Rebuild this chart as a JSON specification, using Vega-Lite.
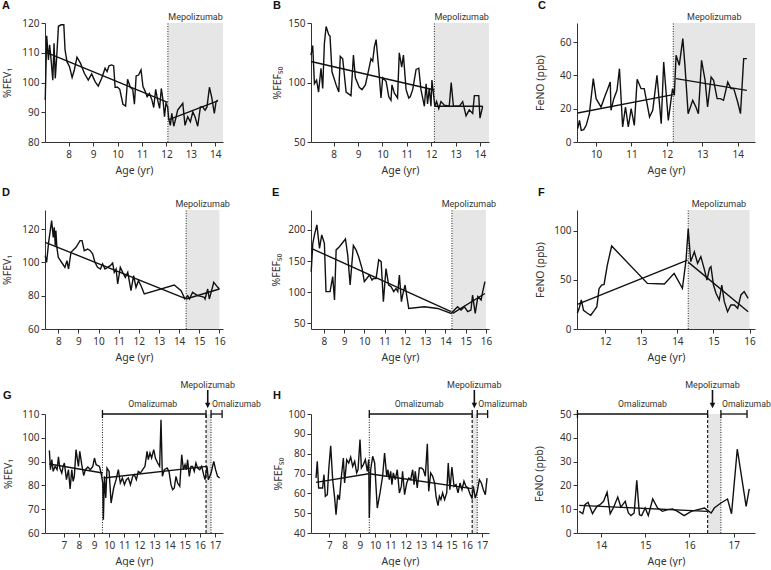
{
"$schema":"https://vega.github.io/schema/vega-lite/v6.json",
"padding":{"left":2,"top":0,"right":0,"bottom":0},
"background":"white",
"config":{
 "view":{"stroke":null},
 "font":"Noto Sans",
 "axis":{"labelFont":"Noto Sans","labelFontSize":10,"labelColor":"#333","titleFont":"Noto Sans","titleFontSize":10.5,"titleFontWeight":"normal","titleColor":"#333","domainColor":"#333","tickColor":"#333","tickSize":4,"grid":false,"labelPadding":2,"labelOverlap":false},
 "axisX":{"labelPadding":3,"titleY":23,"titleBaseline":"top","labelFlush":false},
 "axisY":{"titleX":-37,"titleBaseline":"middle"},
 "title":{"anchor":"start","frame":"bounds","fontSize":11,"fontWeight":"bold","font":"Liberation Sans","color":"#111","offset":2},
 "text":{"font":"Roboto","fontSize":9,"color":"#333"},
 "line":{"color":"#111","strokeWidth":1.4},
 "rect":{"fill":"#e6e6e6"}
},
"datasets":{
"A":[
{"s":"o","x":7.04,"y":94.1},{"s":"o","x":7.10,"y":115.7},{"s":"o","x":7.17,"y":107.6},{"s":"o","x":7.22,"y":112.7},{"s":"o","x":7.28,"y":107.6},{"s":"o","x":7.35,"y":100.8},{"s":"o","x":7.40,"y":113.2},{"s":"o","x":7.45,"y":101.4},{"s":"o","x":7.51,"y":108.7},{"s":"o","x":7.58,"y":118.9},{"s":"o","x":7.69,"y":119.4},{"s":"o","x":7.80,"y":119.4},{"s":"o","x":7.85,"y":111},{"s":"o","x":7.93,"y":107},{"s":"o","x":8.03,"y":105.4},{"s":"o","x":8.14,"y":101.7},{"s":"o","x":8.23,"y":104.2},{"s":"o","x":8.34,"y":108.5},{"s":"o","x":8.48,"y":106.5},{"s":"o","x":8.64,"y":103.1},{"s":"o","x":8.80,"y":100.8},{"s":"o","x":8.94,"y":102.9},{"s":"o","x":9.08,"y":100.3},{"s":"o","x":9.21,"y":98.8},{"s":"o","x":9.35,"y":101.4},{"s":"o","x":9.49,"y":104.8},{"s":"o","x":9.57,"y":103.7},{"s":"o","x":9.65,"y":105.6},{"s":"o","x":9.76,"y":105.9},{"s":"o","x":9.84,"y":105.6},{"s":"o","x":9.90,"y":98.4},{"s":"o","x":10.0,"y":98.4},{"s":"o","x":10.09,"y":97.7},{"s":"o","x":10.22,"y":92.7},{"s":"o","x":10.33,"y":92.1},{"s":"o","x":10.41,"y":101.1},{"s":"o","x":10.52,"y":98.4},{"s":"o","x":10.62,"y":97.7},{"s":"o","x":10.69,"y":92.7},{"s":"o","x":10.76,"y":102.2},{"s":"o","x":10.86,"y":102.5},{"s":"o","x":10.96,"y":104.2},{"s":"o","x":11.04,"y":98.6},{"s":"o","x":11.12,"y":97.2},{"s":"o","x":11.21,"y":95.2},{"s":"o","x":11.30,"y":96.3},{"s":"o","x":11.40,"y":94.3},{"s":"o","x":11.48,"y":91.6},{"s":"o","x":11.56,"y":97.7},{"s":"o","x":11.64,"y":94.1},{"s":"o","x":11.72,"y":91.3},{"s":"o","x":11.79,"y":98},{"s":"o","x":11.86,"y":94.1},{"s":"o","x":11.92,"y":88.5},{"s":"o","x":11.98,"y":93},{"s":"o","x":12.05,"y":91.8},{"s":"o","x":12.09,"y":87.9},{"s":"o","x":12.16,"y":85.6},{"s":"o","x":12.22,"y":89.6},{"s":"o","x":12.30,"y":85.3},{"s":"o","x":12.38,"y":87.9},{"s":"o","x":12.46,"y":90.7},{"s":"o","x":12.54,"y":91.6},{"s":"o","x":12.67,"y":93},{"s":"o","x":12.76,"y":85.6},{"s":"o","x":12.87,"y":88.5},{"s":"o","x":12.98,"y":86.8},{"s":"o","x":13.08,"y":90.1},{"s":"o","x":13.17,"y":88.5},{"s":"o","x":13.28,"y":85.3},{"s":"o","x":13.39,"y":91.8},{"s":"o","x":13.48,"y":91.8},{"s":"o","x":13.58,"y":90.7},{"s":"o","x":13.66,"y":91.8},{"s":"o","x":13.76,"y":98.4},{"s":"o","x":13.85,"y":95.2},{"s":"o","x":13.96,"y":89.6},{"s":"o","x":14.03,"y":93.5},{"s":"o","x":14.10,"y":94.1},
{"s":"t1","x":7.05,"y":110.2},{"s":"t1","x":12.05,"y":93.3},{"s":"t2","x":12.1,"y":87.5},{"s":"t2","x":14.1,"y":93.8}],
"B":[
{"s":"o","x":7.07,"y":123},{"s":"o","x":7.14,"y":131},{"s":"o","x":7.21,"y":99},{"s":"o","x":7.30,"y":102},{"s":"o","x":7.38,"y":92},{"s":"o","x":7.48,"y":112},{"s":"o","x":7.55,"y":95},{"s":"o","x":7.62,"y":133},{"s":"o","x":7.69,"y":147},{"s":"o","x":7.80,"y":140},{"s":"o","x":7.85,"y":139},{"s":"o","x":7.93,"y":109},{"s":"o","x":8.10,"y":98},{"s":"o","x":8.21,"y":92},{"s":"o","x":8.27,"y":122},{"s":"o","x":8.37,"y":120},{"s":"o","x":8.51,"y":92},{"s":"o","x":8.71,"y":89},{"s":"o","x":8.81,"y":123},{"s":"o","x":8.89,"y":104},{"s":"o","x":9.05,"y":96},{"s":"o","x":9.16,"y":94},{"s":"o","x":9.30,"y":98},{"s":"o","x":9.44,"y":111},{"s":"o","x":9.53,"y":120},{"s":"o","x":9.60,"y":118},{"s":"o","x":9.67,"y":130},{"s":"o","x":9.74,"y":136},{"s":"o","x":9.85,"y":111},{"s":"o","x":9.94,"y":87},{"s":"o","x":10.01,"y":104},{"s":"o","x":10.15,"y":101},{"s":"o","x":10.26,"y":88},{"s":"o","x":10.35,"y":85},{"s":"o","x":10.39,"y":98},{"s":"o","x":10.49,"y":91},{"s":"o","x":10.62,"y":87},{"s":"o","x":10.69,"y":125},{"s":"o","x":10.79,"y":113},{"s":"o","x":10.86,"y":123},{"s":"o","x":10.97,"y":94},{"s":"o","x":11.08,"y":87},{"s":"o","x":11.14,"y":88},{"s":"o","x":11.24,"y":94},{"s":"o","x":11.38,"y":111},{"s":"o","x":11.49,"y":112},{"s":"o","x":11.58,"y":94},{"s":"o","x":11.72,"y":80},{"s":"o","x":11.79,"y":99},{"s":"o","x":11.85,"y":82},{"s":"o","x":11.92,"y":95},{"s":"o","x":11.99,"y":80},{"s":"o","x":12.03,"y":102},{"s":"o","x":12.09,"y":91},{"s":"o","x":12.15,"y":80},{"s":"o","x":12.22,"y":84},{"s":"o","x":12.31,"y":78},{"s":"o","x":12.40,"y":84},{"s":"o","x":12.54,"y":81},{"s":"o","x":12.74,"y":80},{"s":"o","x":12.82,"y":100},{"s":"o","x":12.91,"y":80},{"s":"o","x":13.15,"y":80},{"s":"o","x":13.29,"y":84},{"s":"o","x":13.43,"y":72},{"s":"o","x":13.56,"y":77},{"s":"o","x":13.70,"y":74},{"s":"o","x":13.77,"y":89},{"s":"o","x":13.95,"y":89},{"s":"o","x":14.0,"y":70},{"s":"o","x":14.11,"y":80},
{"s":"t1","x":7.07,"y":117.6},{"s":"t1","x":12.13,"y":93.7},{"s":"t2","x":12.15,"y":80.1},{"s":"t2","x":14.11,"y":80.1}],
"C":[
{"s":"o","x":9.48,"y":8},{"s":"o","x":9.53,"y":13},{"s":"o","x":9.58,"y":7},{"s":"o","x":9.65,"y":7.4},{"s":"o","x":9.72,"y":10},{"s":"o","x":9.81,"y":17},{"s":"o","x":9.92,"y":38},{"s":"o","x":10.0,"y":26},{"s":"o","x":10.14,"y":21},{"s":"o","x":10.24,"y":27},{"s":"o","x":10.33,"y":32},{"s":"o","x":10.40,"y":36},{"s":"o","x":10.42,"y":19},{"s":"o","x":10.50,"y":26},{"s":"o","x":10.59,"y":31},{"s":"o","x":10.66,"y":44},{"s":"o","x":10.75,"y":9},{"s":"o","x":10.83,"y":21},{"s":"o","x":10.91,"y":9},{"s":"o","x":10.99,"y":20},{"s":"o","x":11.08,"y":10},{"s":"o","x":11.16,"y":37.6},{"s":"o","x":11.27,"y":32},{"s":"o","x":11.36,"y":32},{"s":"o","x":11.51,"y":15},{"s":"o","x":11.60,"y":19},{"s":"o","x":11.72,"y":40},{"s":"o","x":11.84,"y":11},{"s":"o","x":11.91,"y":48},{"s":"o","x":12.04,"y":13},{"s":"o","x":12.16,"y":32},{"s":"o","x":12.21,"y":28},{"s":"o","x":12.26,"y":52},{"s":"o","x":12.35,"y":46},{"s":"o","x":12.45,"y":62},{"s":"o","x":12.51,"y":46},{"s":"o","x":12.60,"y":17},{"s":"o","x":12.73,"y":25},{"s":"o","x":12.82,"y":21},{"s":"o","x":12.89,"y":17},{"s":"o","x":12.98,"y":49},{"s":"o","x":13.08,"y":37},{"s":"o","x":13.15,"y":21},{"s":"o","x":13.25,"y":39},{"s":"o","x":13.32,"y":37},{"s":"o","x":13.42,"y":26},{"s":"o","x":13.51,"y":26},{"s":"o","x":13.60,"y":25},{"s":"o","x":13.72,"y":36},{"s":"o","x":13.81,"y":32},{"s":"o","x":13.89,"y":32},{"s":"o","x":14.0,"y":24},{"s":"o","x":14.08,"y":17},{"s":"o","x":14.17,"y":50},{"s":"o","x":14.26,"y":50},
{"s":"t1","x":9.48,"y":17.4},{"s":"t1","x":12.18,"y":28.4},{"s":"t2","x":12.26,"y":38},{"s":"t2","x":14.26,"y":31}],
"D":[
{"s":"o","x":7.35,"y":104},{"s":"o","x":7.42,"y":100},{"s":"o","x":7.52,"y":112},{"s":"o","x":7.67,"y":125},{"s":"o","x":7.75,"y":115},{"s":"o","x":7.80,"y":121},{"s":"o","x":7.85,"y":110},{"s":"o","x":7.88,"y":119},{"s":"o","x":7.93,"y":109},{"s":"o","x":8.0,"y":103},{"s":"o","x":8.22,"y":99},{"s":"o","x":8.33,"y":97},{"s":"o","x":8.43,"y":101},{"s":"o","x":8.51,"y":96},{"s":"o","x":8.63,"y":106},{"s":"o","x":8.88,"y":109},{"s":"o","x":9.08,"y":113},{"s":"o","x":9.18,"y":113},{"s":"o","x":9.29,"y":107},{"s":"o","x":9.46,"y":108},{"s":"o","x":9.59,"y":107},{"s":"o","x":9.71,"y":105},{"s":"o","x":9.82,"y":100},{"s":"o","x":9.95,"y":97},{"s":"o","x":10.09,"y":96},{"s":"o","x":10.20,"y":99},{"s":"o","x":10.32,"y":96},{"s":"o","x":10.45,"y":97},{"s":"o","x":10.58,"y":98},{"s":"o","x":10.70,"y":99.6},{"s":"o","x":10.78,"y":94},{"s":"o","x":10.87,"y":96},{"s":"o","x":10.95,"y":87},{"s":"o","x":11.08,"y":97},{"s":"o","x":11.20,"y":94},{"s":"o","x":11.33,"y":91},{"s":"o","x":11.45,"y":94},{"s":"o","x":11.61,"y":83},{"s":"o","x":11.74,"y":92},{"s":"o","x":11.86,"y":85},{"s":"o","x":11.98,"y":89},{"s":"o","x":12.11,"y":86},{"s":"o","x":12.27,"y":81},{"s":"o","x":13.76,"y":86.4},{"s":"o","x":14.10,"y":83},{"s":"o","x":14.29,"y":78},{"s":"o","x":14.43,"y":80},{"s":"o","x":14.51,"y":78},{"s":"o","x":14.67,"y":82},{"s":"o","x":14.92,"y":80},{"s":"o","x":15.09,"y":79.6},{"s":"o","x":15.25,"y":79},{"s":"o","x":15.29,"y":78},{"s":"o","x":15.42,"y":84},{"s":"o","x":15.50,"y":78},{"s":"o","x":15.59,"y":82},{"s":"o","x":15.72,"y":88},{"s":"o","x":15.92,"y":85},{"s":"o","x":16.0,"y":84},
{"s":"t1","x":7.35,"y":112},{"s":"t1","x":14.29,"y":78.4},{"s":"t2","x":14.34,"y":78},{"s":"t2","x":16.0,"y":84}],
"E":[
{"s":"o","x":7.38,"y":133},{"s":"o","x":7.46,"y":178.6},{"s":"o","x":7.54,"y":192},{"s":"o","x":7.66,"y":208},{"s":"o","x":7.79,"y":170.5},{"s":"o","x":7.90,"y":192},{"s":"o","x":8.03,"y":178.6},{"s":"o","x":8.11,"y":101},{"s":"o","x":8.31,"y":101},{"s":"o","x":8.44,"y":125},{"s":"o","x":8.53,"y":87.5},{"s":"o","x":8.61,"y":168},{"s":"o","x":8.77,"y":173},{"s":"o","x":9.07,"y":185.5},{"s":"o","x":9.18,"y":160},{"s":"o","x":9.30,"y":111.6},{"s":"o","x":9.46,"y":175},{"s":"o","x":9.59,"y":168},{"s":"o","x":9.72,"y":157},{"s":"o","x":9.89,"y":138},{"s":"o","x":10.0,"y":117},{"s":"o","x":10.12,"y":122},{"s":"o","x":10.25,"y":127.7},{"s":"o","x":10.38,"y":119.6},{"s":"o","x":10.45,"y":122},{"s":"o","x":10.58,"y":122},{"s":"o","x":10.71,"y":152},{"s":"o","x":10.83,"y":149},{"s":"o","x":10.94,"y":84.8},{"s":"o","x":11.07,"y":138},{"s":"o","x":11.20,"y":111.6},{"s":"o","x":11.32,"y":109},{"s":"o","x":11.45,"y":101},{"s":"o","x":11.56,"y":106},{"s":"o","x":11.65,"y":101},{"s":"o","x":11.73,"y":127.7},{"s":"o","x":11.83,"y":84.8},{"s":"o","x":11.89,"y":95.5},{"s":"o","x":12.01,"y":111.6},{"s":"o","x":12.19,"y":74},{"s":"o","x":12.96,"y":76.8},{"s":"o","x":13.62,"y":74},{"s":"o","x":14.28,"y":66},{"s":"o","x":14.44,"y":71.4},{"s":"o","x":14.60,"y":76.8},{"s":"o","x":14.77,"y":71.4},{"s":"o","x":14.93,"y":76.8},{"s":"o","x":15.10,"y":68.8},{"s":"o","x":15.26,"y":71.4},{"s":"o","x":15.34,"y":95.5},{"s":"o","x":15.47,"y":66},{"s":"o","x":15.60,"y":93},{"s":"o","x":15.76,"y":87.5},{"s":"o","x":15.84,"y":101},{"s":"o","x":15.95,"y":117},
{"s":"t1","x":7.38,"y":170.5},{"s":"t1","x":14.28,"y":68.8},{"s":"t2","x":14.36,"y":66},{"s":"t2","x":15.95,"y":98}],
"F":[
{"s":"o","x":11.23,"y":16},{"s":"o","x":11.28,"y":21},{"s":"o","x":11.34,"y":29.5},{"s":"o","x":11.40,"y":19},{"s":"o","x":11.51,"y":16},{"s":"o","x":11.60,"y":14},{"s":"o","x":11.70,"y":19},{"s":"o","x":11.77,"y":22.7},{"s":"o","x":11.83,"y":41},{"s":"o","x":11.90,"y":44.7},{"s":"o","x":11.97,"y":45.4},{"s":"o","x":12.06,"y":65},{"s":"o","x":12.18,"y":84.4},{"s":"o","x":13.17,"y":46.4},{"s":"o","x":13.64,"y":45.8},{"s":"o","x":13.91,"y":56.6},{"s":"o","x":14.14,"y":41.4},{"s":"o","x":14.24,"y":70},{"s":"o","x":14.30,"y":102},{"s":"o","x":14.37,"y":68.5},{"s":"o","x":14.47,"y":78.6},{"s":"o","x":14.56,"y":66.8},{"s":"o","x":14.65,"y":73.6},{"s":"o","x":14.74,"y":61.7},{"s":"o","x":14.82,"y":49.8},{"s":"o","x":14.89,"y":61.7},{"s":"o","x":14.93,"y":63.4},{"s":"o","x":15.0,"y":44.7},{"s":"o","x":15.07,"y":36.3},{"s":"o","x":15.16,"y":29.5},{"s":"o","x":15.23,"y":44.7},{"s":"o","x":15.30,"y":27.8},{"s":"o","x":15.39,"y":17.6},{"s":"o","x":15.48,"y":24.4},{"s":"o","x":15.58,"y":24.4},{"s":"o","x":15.67,"y":21},{"s":"o","x":15.76,"y":34.6},{"s":"o","x":15.85,"y":38},{"s":"o","x":15.96,"y":31.2},
{"s":"t1","x":11.23,"y":25},{"s":"t1","x":14.28,"y":70},{"s":"t2","x":14.30,"y":68},{"s":"t2","x":15.96,"y":17.6}],
"G":[
{"s":"o","x":6.05,"y":94.7},{"s":"o","x":6.12,"y":86.6},{"s":"o","x":6.21,"y":90.8},{"s":"o","x":6.30,"y":85.9},{"s":"o","x":6.43,"y":88},{"s":"o","x":6.56,"y":86.6},{"s":"o","x":6.65,"y":92},{"s":"o","x":6.74,"y":87.3},{"s":"o","x":6.87,"y":85.2},{"s":"o","x":6.96,"y":88},{"s":"o","x":7.04,"y":89.4},{"s":"o","x":7.18,"y":82.4},{"s":"o","x":7.31,"y":86.6},{"s":"o","x":7.42,"y":78.5},{"s":"o","x":7.53,"y":86.6},{"s":"o","x":7.62,"y":81.7},{"s":"o","x":7.70,"y":83.8},{"s":"o","x":7.81,"y":95},{"s":"o","x":7.97,"y":88},{"s":"o","x":8.06,"y":94.3},{"s":"o","x":8.19,"y":88.7},{"s":"o","x":8.32,"y":84.1},{"s":"o","x":8.43,"y":86.6},{"s":"o","x":8.59,"y":87.7},{"s":"o","x":8.76,"y":86.6},{"s":"o","x":8.92,"y":88},{"s":"o","x":9.03,"y":91.5},{"s":"o","x":9.14,"y":88.7},{"s":"o","x":9.36,"y":88},{"s":"o","x":9.47,"y":85.2},{"s":"o","x":9.58,"y":81},{"s":"o","x":9.62,"y":65.6},{"s":"o","x":9.69,"y":83.8},{"s":"o","x":9.78,"y":74.7},{"s":"o","x":9.86,"y":87.3},{"s":"o","x":10.0,"y":85.9},{"s":"o","x":10.13,"y":72.6},{"s":"o","x":10.30,"y":78.9},{"s":"o","x":10.46,"y":82.4},{"s":"o","x":10.61,"y":86.6},{"s":"o","x":10.74,"y":81},{"s":"o","x":10.88,"y":83.1},{"s":"o","x":11.01,"y":80.3},{"s":"o","x":11.14,"y":82.4},{"s":"o","x":11.27,"y":83.1},{"s":"o","x":11.41,"y":80.3},{"s":"o","x":11.56,"y":83.8},{"s":"o","x":11.67,"y":84.5},{"s":"o","x":11.80,"y":82.4},{"s":"o","x":11.93,"y":85.9},{"s":"o","x":12.07,"y":85.2},{"s":"o","x":12.22,"y":86.6},{"s":"o","x":12.37,"y":88},{"s":"o","x":12.51,"y":94.3},{"s":"o","x":12.59,"y":90.8},{"s":"o","x":12.70,"y":93.6},{"s":"o","x":12.81,"y":91.5},{"s":"o","x":12.95,"y":95},{"s":"o","x":13.06,"y":91.5},{"s":"o","x":13.21,"y":89.4},{"s":"o","x":13.34,"y":88},{"s":"o","x":13.43,"y":107.6},{"s":"o","x":13.52,"y":83.8},{"s":"o","x":13.65,"y":86.6},{"s":"o","x":13.83,"y":87.3},{"s":"o","x":13.96,"y":85.9},{"s":"o","x":14.09,"y":80.3},{"s":"o","x":14.20,"y":78.2},{"s":"o","x":14.31,"y":78.9},{"s":"o","x":14.42,"y":83.8},{"s":"o","x":14.53,"y":81},{"s":"o","x":14.67,"y":79.6},{"s":"o","x":14.80,"y":92.9},{"s":"o","x":14.91,"y":86.6},{"s":"o","x":15.02,"y":88.7},{"s":"o","x":15.11,"y":86.6},{"s":"o","x":15.19,"y":90.8},{"s":"o","x":15.30,"y":83.8},{"s":"o","x":15.41,"y":88},{"s":"o","x":15.52,"y":88},{"s":"o","x":15.63,"y":85.9},{"s":"o","x":15.74,"y":89.4},{"s":"o","x":15.85,"y":87.3},{"s":"o","x":15.99,"y":86.6},{"s":"o","x":16.12,"y":88},{"s":"o","x":16.25,"y":84.5},{"s":"o","x":16.34,"y":82.4},{"s":"o","x":16.47,"y":88},{"s":"o","x":16.56,"y":82.4},{"s":"o","x":16.74,"y":85.2},{"s":"o","x":16.92,"y":90.1},{"s":"o","x":17.04,"y":86.6},{"s":"o","x":17.17,"y":83.8},{"s":"o","x":17.31,"y":83.1},
{"s":"t1","x":6.05,"y":89},{"s":"t1","x":9.58,"y":85.2},{"s":"t2","x":9.64,"y":83.1},{"s":"t2","x":16.47,"y":88}],
"H":[
{"s":"o","x":6.13,"y":67.7},{"s":"o","x":6.21,"y":76.1},{"s":"o","x":6.30,"y":62.7},{"s":"o","x":6.43,"y":62.7},{"s":"o","x":6.56,"y":62.7},{"s":"o","x":6.65,"y":69.4},{"s":"o","x":6.74,"y":58.5},{"s":"o","x":6.87,"y":59.3},{"s":"o","x":6.96,"y":71.9},{"s":"o","x":7.09,"y":84},{"s":"o","x":7.22,"y":66.9},{"s":"o","x":7.35,"y":57.6},{"s":"o","x":7.44,"y":49.2},{"s":"o","x":7.55,"y":59.3},{"s":"o","x":7.66,"y":56.8},{"s":"o","x":7.76,"y":66.1},{"s":"o","x":7.92,"y":77.8},{"s":"o","x":8.0,"y":65.2},{"s":"o","x":8.14,"y":77},{"s":"o","x":8.27,"y":75.3},{"s":"o","x":8.40,"y":78.3},{"s":"o","x":8.53,"y":73.6},{"s":"o","x":8.66,"y":76.1},{"s":"o","x":8.79,"y":70.3},{"s":"o","x":8.88,"y":71.9},{"s":"o","x":9.01,"y":87.1},{"s":"o","x":9.10,"y":72.8},{"s":"o","x":9.23,"y":74.5},{"s":"o","x":9.36,"y":77},{"s":"o","x":9.49,"y":71.1},{"s":"o","x":9.58,"y":77},{"s":"o","x":9.62,"y":47.6},{"s":"o","x":9.71,"y":71.9},{"s":"o","x":9.84,"y":78.7},{"s":"o","x":9.97,"y":75.3},{"s":"o","x":10.14,"y":52.6},{"s":"o","x":10.32,"y":60.2},{"s":"o","x":10.49,"y":68.6},{"s":"o","x":10.62,"y":80.3},{"s":"o","x":10.76,"y":68.6},{"s":"o","x":10.84,"y":71.9},{"s":"o","x":10.93,"y":66.9},{"s":"o","x":11.02,"y":71.1},{"s":"o","x":11.10,"y":64.4},{"s":"o","x":11.19,"y":70.3},{"s":"o","x":11.32,"y":66.9},{"s":"o","x":11.45,"y":71.9},{"s":"o","x":11.59,"y":60.2},{"s":"o","x":11.72,"y":63.5},{"s":"o","x":11.80,"y":71.1},{"s":"o","x":11.93,"y":59.3},{"s":"o","x":12.07,"y":65.2},{"s":"o","x":12.20,"y":67.7},{"s":"o","x":12.33,"y":66.9},{"s":"o","x":12.46,"y":71.9},{"s":"o","x":12.55,"y":64.4},{"s":"o","x":12.63,"y":71.1},{"s":"o","x":12.76,"y":62.7},{"s":"o","x":12.90,"y":72.8},{"s":"o","x":13.03,"y":72.8},{"s":"o","x":13.16,"y":71.9},{"s":"o","x":13.29,"y":68.6},{"s":"o","x":13.42,"y":85},{"s":"o","x":13.51,"y":61},{"s":"o","x":13.64,"y":70.3},{"s":"o","x":13.77,"y":68.6},{"s":"o","x":13.90,"y":65.2},{"s":"o","x":13.99,"y":58.5},{"s":"o","x":14.12,"y":53.8},{"s":"o","x":14.21,"y":58.5},{"s":"o","x":14.31,"y":56.8},{"s":"o","x":14.42,"y":60.2},{"s":"o","x":14.55,"y":56.8},{"s":"o","x":14.69,"y":60.2},{"s":"o","x":14.79,"y":75.3},{"s":"o","x":14.90,"y":61.8},{"s":"o","x":15.03,"y":73.3},{"s":"o","x":15.17,"y":63.5},{"s":"o","x":15.30,"y":64.4},{"s":"o","x":15.43,"y":60.2},{"s":"o","x":15.56,"y":65.2},{"s":"o","x":15.69,"y":61.8},{"s":"o","x":15.82,"y":66.1},{"s":"o","x":15.95,"y":63.5},{"s":"o","x":16.08,"y":62.7},{"s":"o","x":16.21,"y":59.8},{"s":"o","x":16.34,"y":57.6},{"s":"o","x":16.43,"y":63.5},{"s":"o","x":16.56,"y":57.6},{"s":"o","x":16.69,"y":61},{"s":"o","x":16.83,"y":66.9},{"s":"o","x":16.96,"y":65.2},{"s":"o","x":17.09,"y":61.8},{"s":"o","x":17.22,"y":59.3},{"s":"o","x":17.33,"y":67.7},
{"s":"t1","x":6.13,"y":65.5},{"s":"t1","x":9.58,"y":69.9},{"s":"t2","x":9.62,"y":69.9},{"s":"t2","x":16.34,"y":62.4}],
"I":[
{"s":"o","x":13.51,"y":9.1},{"s":"o","x":13.59,"y":8.1},{"s":"o","x":13.64,"y":11.9},{"s":"o","x":13.71,"y":12.9},{"s":"o","x":13.81,"y":8.1},{"s":"o","x":13.91,"y":11.2},{"s":"o","x":13.98,"y":11.9},{"s":"o","x":14.06,"y":13.3},{"s":"o","x":14.14,"y":17.1},{"s":"o","x":14.21,"y":8.1},{"s":"o","x":14.29,"y":10.9},{"s":"o","x":14.38,"y":15.1},{"s":"o","x":14.45,"y":10.9},{"s":"o","x":14.55,"y":13.3},{"s":"o","x":14.62,"y":8.4},{"s":"o","x":14.68,"y":7.3},{"s":"o","x":14.75,"y":8.4},{"s":"o","x":14.81,"y":22.1},{"s":"o","x":14.87,"y":7.7},{"s":"o","x":14.92,"y":7.3},{"s":"o","x":15.0,"y":10.5},{"s":"o","x":15.07,"y":7.3},{"s":"o","x":15.17,"y":14.3},{"s":"o","x":15.28,"y":10.5},{"s":"o","x":15.39,"y":9.1},{"s":"o","x":15.51,"y":9.8},{"s":"o","x":15.62,"y":10.1},{"s":"o","x":15.73,"y":9.1},{"s":"o","x":15.88,"y":7.3},{"s":"o","x":16.04,"y":9.1},{"s":"o","x":16.19,"y":9.8},{"s":"o","x":16.34,"y":10.5},{"s":"o","x":16.41,"y":9.5},{"s":"o","x":16.49,"y":8.4},{"s":"o","x":16.56,"y":10.5},{"s":"o","x":16.71,"y":12.6},{"s":"o","x":16.86,"y":14.3},{"s":"o","x":16.95,"y":8.1},{"s":"o","x":17.08,"y":35.3},{"s":"o","x":17.28,"y":11.2},{"s":"o","x":17.35,"y":18.5},
{"s":"t1","x":13.51,"y":11.6},{"s":"t1","x":16.41,"y":9.1}]
},
"concat":[
{"width":178,"height":119,"title":{"text":"A"},
 "encoding":{"x":{"field":"x","type":"quantitative","scale":{"domain":[7.03,14.315],"nice":false,"zero":false},"axis":{"values":[8,9,10,11,12,13,14],"title":"Age (yr)","labelOverlap":false}},
  "y":{"field":"y","type":"quantitative","scale":{"domain":[80,120],"nice":false,"zero":false},"axis":{"values":[80,90,100,110,120],"title":"%FEV₁","titleX":-38,"labelOverlap":false}}},
 "layer":[
  {"data":{"values":[{"x":12.06,"x2":14.315,"y":80,"y2":120}]},"mark":{"type":"rect"},"encoding":{"x2":{"field":"x2"},"y2":{"field":"y2"}}},
  {"data":{"values":[{"x":12.06,"y":80,"y2":120}]},"mark":{"type":"rule","strokeDash":[1,1.5],"color":"#222"},"encoding":{"y2":{"field":"y2"}}},
  {"data":{"values":[{"x":13.19,"y":120,"lab":"Mepolizumab"}]},"mark":{"type":"text","baseline":"bottom","dy":-1},"encoding":{"text":{"field":"lab"}}},
  {"data":{"name":"A"},"mark":{"type":"line"},"encoding":{"detail":{"field":"s"}}}
 ]},
{"width":178,"height":119,"title":{"text":"B","dx":1},
 "encoding":{"x":{"field":"x","type":"quantitative","scale":{"domain":[7.07,14.37],"nice":false,"zero":false},"axis":{"values":[8,9,10,11,12,13,14],"title":"Age (yr)","labelOverlap":false}},
  "y":{"field":"y","type":"quantitative","scale":{"domain":[50,150],"nice":false,"zero":false},"axis":{"values":[50,100,150],"title":"%FEF₅₀","titleX":-34,"labelOverlap":false}}},
 "layer":[
  {"data":{"values":[{"x":12.13,"x2":14.37,"y":50,"y2":150}]},"mark":{"type":"rect"},"encoding":{"x2":{"field":"x2"},"y2":{"field":"y2"}}},
  {"data":{"values":[{"x":12.13,"y":50,"y2":150}]},"mark":{"type":"rule","strokeDash":[1,1.5],"color":"#222"},"encoding":{"y2":{"field":"y2"}}},
  {"data":{"values":[{"x":13.25,"y":150,"lab":"Mepolizumab"}]},"mark":{"type":"text","baseline":"bottom","dy":-1},"encoding":{"text":{"field":"lab"}}},
  {"data":{"name":"B"},"mark":{"type":"line"},"encoding":{"detail":{"field":"s"}}}
 ]},
{"width":178,"height":119,"title":{"text":"C","dx":3},
 "encoding":{"x":{"field":"x","type":"quantitative","scale":{"domain":[9.46,14.49],"nice":false,"zero":false},"axis":{"values":[10,11,12,13,14],"title":"Age (yr)","labelOverlap":false}},
  "y":{"field":"y","type":"quantitative","scale":{"domain":[0,71.4],"nice":false,"zero":false},"axis":{"values":[0,20,40,60],"title":"FeNO (ppb)","titleX":-37,"labelOverlap":false}}},
 "layer":[
  {"data":{"values":[{"x":12.18,"x2":14.49,"y":0,"y2":71.4}]},"mark":{"type":"rect"},"encoding":{"x2":{"field":"x2"},"y2":{"field":"y2"}}},
  {"data":{"values":[{"x":12.18,"y":0,"y2":71.4}]},"mark":{"type":"rule","strokeDash":[1,1.5],"color":"#222"},"encoding":{"y2":{"field":"y2"}}},
  {"data":{"values":[{"x":13.34,"y":71.4,"lab":"Mepolizumab"}]},"mark":{"type":"text","baseline":"bottom","dy":-1},"encoding":{"text":{"field":"lab"}}},
  {"data":{"name":"C"},"mark":{"type":"line"},"encoding":{"detail":{"field":"s"}}}
 ]},
{"width":178,"height":119,"title":{"text":"D"},
 "encoding":{"x":{"field":"x","type":"quantitative","scale":{"domain":[7.34,16.18],"nice":false,"zero":false},"axis":{"values":[8,9,10,11,12,13,14,15,16],"title":"Age (yr)","labelOverlap":false}},
  "y":{"field":"y","type":"quantitative","scale":{"domain":[60,131.4],"nice":false,"zero":false},"axis":{"values":[60,80,100,120],"title":"%FEV₁","titleX":-38,"labelOverlap":false}}},
 "layer":[
  {"data":{"values":[{"x":14.35,"x2":16.0,"y":60,"y2":131.4}]},"mark":{"type":"rect"},"encoding":{"x2":{"field":"x2"},"y2":{"field":"y2"}}},
  {"data":{"values":[{"x":14.35,"y":60,"y2":131.4}]},"mark":{"type":"rule","strokeDash":[1,1.5],"color":"#222"},"encoding":{"y2":{"field":"y2"}}},
  {"data":{"values":[{"x":15.17,"y":131.4,"lab":"Mepolizumab"}]},"mark":{"type":"text","baseline":"bottom","dy":-1},"encoding":{"text":{"field":"lab"}}},
  {"data":{"name":"D"},"mark":{"type":"line"},"encoding":{"detail":{"field":"s"}}}
 ]},
{"width":178,"height":119,"title":{"text":"E","dx":1},
 "encoding":{"x":{"field":"x","type":"quantitative","scale":{"domain":[7.37,16.15],"nice":false,"zero":false},"axis":{"values":[8,9,10,11,12,13,14,15,16],"title":"Age (yr)","labelOverlap":false}},
  "y":{"field":"y","type":"quantitative","scale":{"domain":[41,232],"nice":false,"zero":false},"axis":{"values":[50,100,150,200],"title":"%FEF₅₀","titleX":-35,"labelOverlap":false}}},
 "layer":[
  {"data":{"values":[{"x":14.32,"x2":16.0,"y":41,"y2":232}]},"mark":{"type":"rect"},"encoding":{"x2":{"field":"x2"},"y2":{"field":"y2"}}},
  {"data":{"values":[{"x":14.32,"y":41,"y2":232}]},"mark":{"type":"rule","strokeDash":[1,1.5],"color":"#222"},"encoding":{"y2":{"field":"y2"}}},
  {"data":{"values":[{"x":15.16,"y":232,"lab":"Mepolizumab"}]},"mark":{"type":"text","baseline":"bottom","dy":-1},"encoding":{"text":{"field":"lab"}}},
  {"data":{"name":"E"},"mark":{"type":"line"},"encoding":{"detail":{"field":"s"}}}
 ]},
{"width":178,"height":119,"title":{"text":"F","dx":3},
 "encoding":{"x":{"field":"x","type":"quantitative","scale":{"domain":[11.22,16.15],"nice":false,"zero":false},"axis":{"values":[12,13,14,15,16],"title":"Age (yr)","labelOverlap":false}},
  "y":{"field":"y","type":"quantitative","scale":{"domain":[0,121],"nice":false,"zero":false},"axis":{"values":[0,50,100],"title":"FeNO (ppb)","titleX":-37,"labelOverlap":false}}},
 "layer":[
  {"data":{"values":[{"x":14.30,"x2":16.0,"y":0,"y2":121}]},"mark":{"type":"rect"},"encoding":{"x2":{"field":"x2"},"y2":{"field":"y2"}}},
  {"data":{"values":[{"x":14.30,"y":0,"y2":121}]},"mark":{"type":"rule","strokeDash":[1,1.5],"color":"#222"},"encoding":{"y2":{"field":"y2"}}},
  {"data":{"values":[{"x":15.15,"y":121,"lab":"Mepolizumab"}]},"mark":{"type":"text","baseline":"bottom","dy":-1},"encoding":{"text":{"field":"lab"}}},
  {"data":{"name":"F"},"mark":{"type":"line"},"encoding":{"detail":{"field":"s"}}}
 ]},
{"width":178,"height":136,"title":{"text":"G","dy":22},
 "encoding":{"x":{"field":"x","type":"quantitative","scale":{"domain":[5.76,17.53],"nice":false,"zero":false},"axis":{"values":[7,8,9,10,11,12,13,14,15,16,17],"title":"Age (yr)","labelOverlap":false}},
  "y":{"field":"y","type":"quantitative","scale":{"domain":[60,110],"range":[136,17],"nice":false,"zero":false},"axis":{"values":[60,70,80,90,100,110],"title":"%FEV₁","titleX":-37,"labelOverlap":false}}},
 "layer":[
  {"data":{"values":[{"x":16.41,"x2":16.74,"y":60,"y2":110}]},"mark":{"type":"rect"},"encoding":{"x2":{"field":"x2"},"y2":{"field":"y2"}}},
  {"data":{"values":[{"x":9.56,"y":60,"y2":110},{"x":16.74,"y":60,"y2":110}]},"mark":{"type":"rule","strokeDash":[1,1.5],"color":"#222"},"encoding":{"y2":{"field":"y2"}}},
  {"data":{"values":[{"x":16.41,"y":60,"y2":110}]},"mark":{"type":"rule","strokeDash":[3,2],"color":"#222","strokeWidth":1.2},"encoding":{"y2":{"field":"y2"}}},
  {"data":{"values":[{"x":9.56,"x2":16.41,"y":110},{"x":16.74,"x2":17.47,"y":110}]},"mark":{"type":"rule","color":"#111","strokeWidth":1.3},"encoding":{"x2":{"field":"x2"}}},
  {"data":{"values":[{"x":9.56,"y":110},{"x":16.41,"y":110},{"x":16.74,"y":110},{"x":17.47,"y":110}]},"mark":{"type":"point","shape":"M0,-1L0,1","size":64,"filled":false,"stroke":"#111","strokeWidth":1.3,"opacity":1}},
  {"data":{"values":[{"x":16.52,"y":110}]},"mark":{"type":"rule","color":"#111","strokeWidth":1.6,"yOffset":-24,"y2Offset":-11},"encoding":{"y2":{"field":"y"}}},
  {"data":{"values":[{"x":16.52,"y":110}]},"mark":{"type":"point","shape":"M-1,-1L1,-1L0,1Z","size":30,"filled":true,"color":"#111","opacity":1,"yOffset":-8.5}},
  {"data":{"values":[{"x":16.52,"y":110,"lab":"Mepolizumab"}]},"mark":{"type":"text","baseline":"bottom","dy":-24},"encoding":{"text":{"field":"lab"}}},
  {"data":{"values":[{"x":12.88,"y":110,"lab":"Omalizumab"}]},"mark":{"type":"text","baseline":"alphabetic","dy":-7,"fontSize":8.7},"encoding":{"text":{"field":"lab"}}},
  {"data":{"values":[{"x":16.74,"y":110,"lab":"Omalizumab"}]},"mark":{"type":"text","baseline":"alphabetic","align":"left","dx":1,"dy":-7,"fontSize":8.7},"encoding":{"text":{"field":"lab"}}},
  {"data":{"name":"G"},"mark":{"type":"line"},"encoding":{"detail":{"field":"s"}}}
 ]},
{"width":178,"height":136,"title":{"text":"H","dy":22},
 "encoding":{"x":{"field":"x","type":"quantitative","scale":{"domain":[5.80,17.46],"nice":false,"zero":false},"axis":{"values":[7,8,9,10,11,12,13,14,15,16,17],"title":"Age (yr)","labelOverlap":false}},
  "y":{"field":"y","type":"quantitative","scale":{"domain":[40,100],"range":[136,17],"nice":false,"zero":false},"axis":{"values":[40,50,60,70,80,90,100],"title":"%FEF₅₀","titleX":-33,"labelOverlap":false}}},
 "layer":[
  {"data":{"values":[{"x":16.36,"x2":16.69,"y":40,"y2":100}]},"mark":{"type":"rect"},"encoding":{"x2":{"field":"x2"},"y2":{"field":"y2"}}},
  {"data":{"values":[{"x":9.62,"y":40,"y2":100},{"x":16.69,"y":40,"y2":100}]},"mark":{"type":"rule","strokeDash":[1,1.5],"color":"#222"},"encoding":{"y2":{"field":"y2"}}},
  {"data":{"values":[{"x":16.36,"y":40,"y2":100}]},"mark":{"type":"rule","strokeDash":[3,2],"color":"#222","strokeWidth":1.2},"encoding":{"y2":{"field":"y2"}}},
  {"data":{"values":[{"x":9.62,"x2":16.36,"y":100},{"x":16.69,"x2":17.37,"y":100}]},"mark":{"type":"rule","color":"#111","strokeWidth":1.3},"encoding":{"x2":{"field":"x2"}}},
  {"data":{"values":[{"x":9.62,"y":100},{"x":16.36,"y":100},{"x":16.69,"y":100},{"x":17.37,"y":100}]},"mark":{"type":"point","shape":"M0,-1L0,1","size":64,"filled":false,"stroke":"#111","strokeWidth":1.3,"opacity":1}},
  {"data":{"values":[{"x":16.5,"y":100}]},"mark":{"type":"rule","color":"#111","strokeWidth":1.6,"yOffset":-24,"y2Offset":-11},"encoding":{"y2":{"field":"y"}}},
  {"data":{"values":[{"x":16.5,"y":100}]},"mark":{"type":"point","shape":"M-1,-1L1,-1L0,1Z","size":30,"filled":true,"color":"#111","opacity":1,"yOffset":-8.5}},
  {"data":{"values":[{"x":16.5,"y":100,"lab":"Mepolizumab"}]},"mark":{"type":"text","baseline":"bottom","dy":-24},"encoding":{"text":{"field":"lab"}}},
  {"data":{"values":[{"x":12.89,"y":100,"lab":"Omalizumab"}]},"mark":{"type":"text","baseline":"alphabetic","dy":-7,"fontSize":8.7},"encoding":{"text":{"field":"lab"}}},
  {"data":{"values":[{"x":16.69,"y":100,"lab":"Omalizumab"}]},"mark":{"type":"text","baseline":"alphabetic","align":"left","dx":1,"dy":-7,"fontSize":8.7},"encoding":{"text":{"field":"lab"}}},
  {"data":{"name":"H"},"mark":{"type":"line"},"encoding":{"detail":{"field":"s"}}}
 ]},
{"width":178,"height":136,
 "encoding":{"x":{"field":"x","type":"quantitative","scale":{"domain":[13.46,17.48],"nice":false,"zero":false},"axis":{"values":[14,15,16,17],"title":"Age (yr)","labelOverlap":false}},
  "y":{"field":"y","type":"quantitative","scale":{"domain":[0,50],"range":[136,17],"nice":false,"zero":false},"axis":{"values":[0,10,20,30,40,50],"title":"FeNO (ppb)","titleX":-38,"labelOverlap":false}}},
 "layer":[
  {"data":{"values":[{"x":16.41,"x2":16.71,"y":0,"y2":50}]},"mark":{"type":"rect"},"encoding":{"x2":{"field":"x2"},"y2":{"field":"y2"}}},
  {"data":{"values":[{"x":16.71,"y":0,"y2":50}]},"mark":{"type":"rule","strokeDash":[1,1.5],"color":"#222"},"encoding":{"y2":{"field":"y2"}}},
  {"data":{"values":[{"x":16.41,"y":0,"y2":50}]},"mark":{"type":"rule","strokeDash":[3,2],"color":"#222","strokeWidth":1.2},"encoding":{"y2":{"field":"y2"}}},
  {"data":{"values":[{"x":13.47,"x2":16.41,"y":50},{"x":16.71,"x2":17.3,"y":50}]},"mark":{"type":"rule","color":"#111","strokeWidth":1.3},"encoding":{"x2":{"field":"x2"}}},
  {"data":{"values":[{"x":13.47,"y":50},{"x":16.41,"y":50},{"x":16.71,"y":50},{"x":17.3,"y":50}]},"mark":{"type":"point","shape":"M0,-1L0,1","size":64,"filled":false,"stroke":"#111","strokeWidth":1.3,"opacity":1}},
  {"data":{"values":[{"x":16.52,"y":50}]},"mark":{"type":"rule","color":"#111","strokeWidth":1.6,"yOffset":-24,"y2Offset":-11},"encoding":{"y2":{"field":"y"}}},
  {"data":{"values":[{"x":16.52,"y":50}]},"mark":{"type":"point","shape":"M-1,-1L1,-1L0,1Z","size":30,"filled":true,"color":"#111","opacity":1,"yOffset":-8.5}},
  {"data":{"values":[{"x":16.52,"y":50,"lab":"Mepolizumab"}]},"mark":{"type":"text","baseline":"bottom","dy":-24},"encoding":{"text":{"field":"lab"}}},
  {"data":{"values":[{"x":14.94,"y":50,"lab":"Omalizumab"}]},"mark":{"type":"text","baseline":"alphabetic","dy":-7,"fontSize":8.7},"encoding":{"text":{"field":"lab"}}},
  {"data":{"values":[{"x":16.71,"y":50,"lab":"Omalizumab"}]},"mark":{"type":"text","baseline":"alphabetic","align":"left","dx":1,"dy":-7,"fontSize":8.7},"encoding":{"text":{"field":"lab"}}},
  {"data":{"name":"I"},"mark":{"type":"line"},"encoding":{"detail":{"field":"s"}}}
 ]}
],
"columns":3,
"spacing":{"row":68,"column":88},
"bounds":"flush"
}
